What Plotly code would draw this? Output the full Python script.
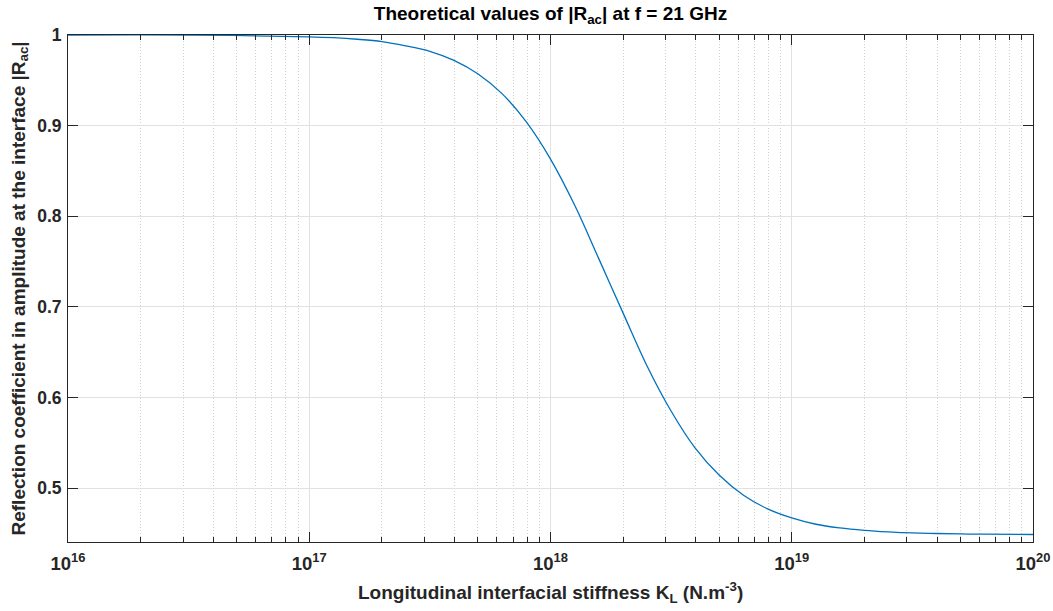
import plotly.graph_objects as go

# Values
K = [1e16, 3.16e16, 1e17, 1.26e17, 1.58e17, 2.0e17, 2.51e17, 3.16e17, 3.98e17, 5.01e17,
     6.31e17, 7.94e17, 1e18, 1.26e18, 1.58e18, 2.0e18, 2.51e18, 3.16e18, 3.98e18, 5.01e18,
     6.31e18, 7.94e18, 1e19, 1.26e19, 1.58e19, 2.0e19, 2.51e19, 3.16e19, 3.98e19, 5.01e19,
     6.31e19, 1e20]
R_ac = [1.000, 1.000, 0.998, 0.997, 0.9953, 0.9927, 0.988, 0.982, 0.972, 0.957,
        0.935, 0.904, 0.863, 0.812, 0.754, 0.693, 0.635, 0.585, 0.544, 0.514,
        0.492, 0.477, 0.467, 0.460, 0.456, 0.4533, 0.4516, 0.4504, 0.4498, 0.4493,
        0.4490, 0.4487]

x_major = [1e16, 1e17, 1e18, 1e19, 1e20]
x_major_text = ["10<sup>16</sup>", "10<sup>17</sup>", "10<sup>18</sup>", "10<sup>19</sup>", "10<sup>20</sup>"]
x_minor = [m * 10.0 ** e for e in range(16, 20) for m in range(2, 10)]
y_ticks = [0.5, 0.6, 0.7, 0.8, 0.9, 1.0]
y_tick_text = ["0.5", "0.6", "0.7", "0.8", "0.9", "1"]

FONT = "Liberation Sans, Arial, Helvetica, sans-serif"
AX = "#262626"

fig = go.Figure()
fig.add_trace(go.Scatter(x=K, y=R_ac, mode="lines",
                         line=dict(color="#0072BD", width=1.3, shape="spline", smoothing=1.0),
                         showlegend=False, hoverinfo="skip"))

common = dict(ticks="inside", tickcolor=AX, tickwidth=1, showline=True, linecolor=AX,
              linewidth=1, mirror="allticks", showgrid=True, gridcolor="#e1e1e1", gridwidth=1,
              zeroline=False, automargin=False)

fig.update_xaxes(type="log", range=[16, 20], tickmode="array", tickvals=x_major,
                 ticktext=x_major_text, ticklen=10, ticklabelstandoff=5,
                 tickfont=dict(family=FONT, size=18.5, color=AX, weight="bold"),
                 minor=dict(tickmode="array", tickvals=x_minor, ticks="inside", ticklen=5,
                            tickcolor=AX, showgrid=True, gridcolor="#cfcfcf", griddash="1px,2px",
                            gridwidth=1),
                 **common)
fig.update_yaxes(range=[0.4404, 1.0], tickmode="array", tickvals=y_ticks, ticktext=y_tick_text,
                 ticklen=10, ticklabelstandoff=2,
                 tickfont=dict(family=FONT, size=17.5, color=AX, weight="bold"), **common)

fig.update_layout(
    width=1053, height=611,
    margin=dict(l=68, r=20, t=35, b=69, autoexpand=False),
    paper_bgcolor="white", plot_bgcolor="white",
    title=dict(text="Theoretical values of |R<sub>ac</sub>| at f = 21 GHz",
               x=0.5, xref="paper", xanchor="center",
               y=1 - 13 / 611, yref="container", yanchor="middle",
               font=dict(family=FONT, size=19, color="black", weight="bold")),
    annotations=[
        dict(text="Longitudinal interfacial stiffness K<sub>L</sub> (N.m<sup>-3</sup>)",
             xref="paper", yref="paper", x=0.5, y=0, yshift=-50, yanchor="middle",
             xanchor="center", showarrow=False,
             font=dict(family=FONT, size=19, color=AX, weight="bold")),
        dict(text="Reflection coefficient in amplitude at the interface |R<sub>ac</sub>|",
             xref="paper", yref="paper", x=0, y=0.5, xshift=-49, textangle=-90,
             xanchor="center", yanchor="middle", showarrow=False,
             font=dict(family=FONT, size=19, color=AX, weight="bold")),
    ],
)

fig.write_html("out.html")
